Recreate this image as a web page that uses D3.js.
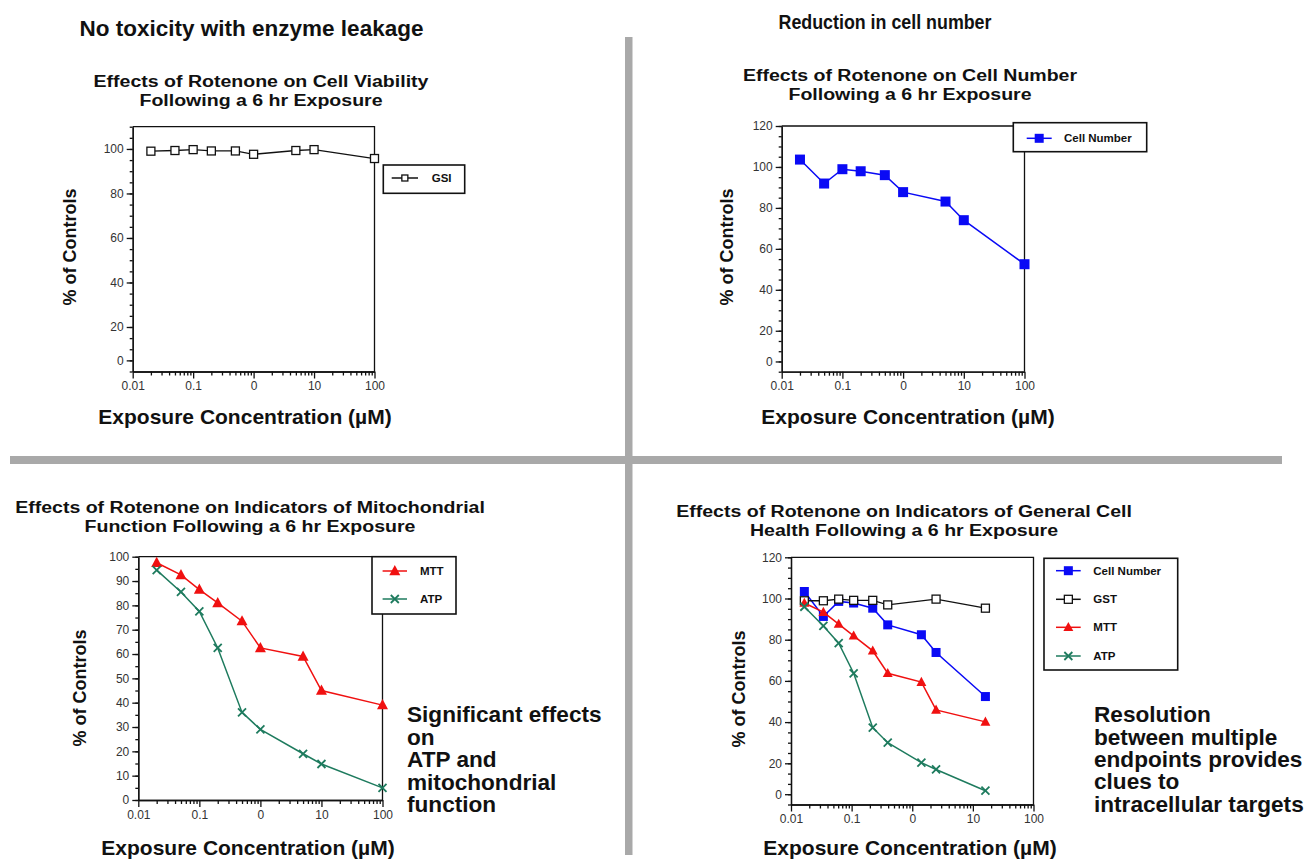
<!DOCTYPE html>
<html><head><meta charset="utf-8">
<script src="https://cdn.jsdelivr.net/npm/d3@7"></script>
<style>body{margin:0;background:#fff} svg{display:block}</style>
</head><body>
<svg id="c" width="1307" height="863"></svg>
<script>
// ---------- DATA ----------
const concentrations = [0.02, 0.05, 0.1, 0.2, 0.5, 1, 5, 10, 100];
const gsiValues = [99, 99.3, 99.7, 99.1, 99.1, 97.6, 99.3, 99.7, 95.7];
const cellNumberValues = [103.6, 91.9, 98.9, 97.9, 96, 87.7, 83.1, 74, 52.5];
const mttValues = [97.5, 92.5, 86.5, 81, 73.5, 62.5, 59, 45, 39];
const atpValues = [94.5, 85.5, 77.5, 62.5, 36, 29, 19, 14.8, 5];

// panel 4 (points plotted at compressed positions in the original)
const concentrations4 = [0.0166, 0.0342, 0.0612, 0.108, 0.223, 0.394, 1.415, 2.47, 16.1];
const gstConcentrations4 = [0.0166, 0.0342, 0.0612, 0.108, 0.223, 0.394, 2.47, 16.1];
const cellNumber4 = [103.4, 91.3, 98.6, 97.8, 95.3, 87.2, 82.4, 73.8, 52.4];
const gst4 = [98.9, 98.9, 99.7, 99.1, 99.1, 96.9, 99.7, 95.3];
const mtt4 = [97.8, 93.4, 87.6, 81.9, 74.6, 63.7, 59.4, 45.9, 40.1];
const atp4 = [96, 86.7, 78.3, 63.7, 37.3, 30, 20.3, 17, 6.7];

const xTickValues = [0.01, 0.1, 1, 10, 100];
const xTickLabels = ["0.01", "0.1", "0", "10", "100"];
const yTickValues110 = [5, 20, 40, 60, 80, 100];
const yTickLabels110 = ["0", "20", "40", "60", "80", "100"];
const yTickValues120 = [5, 20, 40, 60, 80, 100, 120];
const yTickLabels120 = ["0", "20", "40", "60", "80", "100", "120"];
const yTickValues100 = [0, 10, 20, 30, 40, 50, 60, 70, 80, 90, 100];
const yTickLabels100 = ["0", "10", "20", "30", "40", "50", "60", "70", "80", "90", "100"];

// ---------- STYLE ----------
const FONT = "'Liberation Sans', Arial, Helvetica, sans-serif";
const BLUE = "#0a0af5", RED = "#f01010", GREEN = "#1e7b5e", BLACK = "#111";

const svg = d3.select("#c");
svg.append("rect").attr("width", 1307).attr("height", 863).attr("fill", "#fff");

// dividers
svg.append("rect").attr("x", 625).attr("y", 37).attr("width", 7.5).attr("height", 818).attr("fill", "#a9a9a9");
svg.append("rect").attr("x", 10).attr("y", 456).attr("width", 1272).attr("height", 8).attr("fill", "#a9a9a9");

function text(x, y, str, size, opts = {}) {
  return svg.append("text").attr("x", x).attr("y", y).text(str)
    .attr("font-family", FONT).attr("font-size", size)
    .attr("font-weight", opts.weight || "bold")
    .attr("text-anchor", opts.anchor || "start")
    .attr("fill", opts.fill || "#111");
}

// multi-line text block as one <text> with tspans
function block(x, y, lines, size, lineH, anchor, sx) {
  const t = svg.append("text").attr("x", 0).attr("y", 0)
    .attr("transform", `translate(${x},${y}) scale(${sx || 1},1)`)
    .attr("font-family", FONT).attr("font-size", size).attr("font-weight", "bold")
    .attr("text-anchor", anchor || "start").attr("fill", "#111");
  lines.forEach((l, i) => t.append("tspan").attr("x", 0).attr("dy", i === 0 ? 0 : lineH).text(l));
  return t;
}

function marker(g, type, cx, cy, color, s) {
  if (type === "sqOpen") {
    g.append("rect").attr("x", cx - s / 2).attr("y", cy - s / 2).attr("width", s).attr("height", s)
      .attr("fill", "#fff").attr("stroke", color).attr("stroke-width", 1.3);
  } else if (type === "sqFill") {
    g.append("rect").attr("x", cx - s / 2).attr("y", cy - s / 2).attr("width", s).attr("height", s)
      .attr("fill", color).attr("stroke", "none");
  } else if (type === "tri") {
    g.append("path").attr("d", `M${cx},${cy - s * 0.6}L${cx + s * 0.55},${cy + s * 0.42}L${cx - s * 0.55},${cy + s * 0.42}Z`)
      .attr("fill", color);
  } else if (type === "x") {
    const h = s / 2;
    g.append("path").attr("d", `M${cx - h},${cy - h}L${cx + h},${cy + h}M${cx - h},${cy + h}L${cx + h},${cy - h}`)
      .attr("stroke", color).attr("stroke-width", 1.8).attr("fill", "none");
  }
}

function panel(cfg) {
  const g = svg.append("g");
  const x = d3.scaleLog().domain([0.01, 100]).range([cfg.x0, cfg.x1]);
  const y = d3.scaleLinear().domain([0, cfg.yMax]).range([cfg.y0, cfg.y1]);

  // frame (top and right)
  g.append("path").attr("d", `M${cfg.x0},${cfg.y1}H${cfg.x1}V${cfg.y0}`)
    .attr("fill", "none").attr("stroke", BLACK).attr("stroke-width", 1.3);

  // x axis
  const minorX = [];
  [0.01, 0.1, 1, 10].forEach(d => { for (let k = 2; k <= 9; k++) minorX.push(d * k); });
  const gx = g.append("g").attr("transform", `translate(0,${cfg.y0})`);
  gx.call(d3.axisBottom(x).tickValues(minorX).tickFormat("").tickSize(4).tickSizeOuter(0));
  const gx2 = g.append("g").attr("transform", `translate(0,${cfg.y0})`);
  gx2.call(d3.axisBottom(x).tickValues(xTickValues).tickFormat((d, i) => xTickLabels[i]).tickSize(7).tickSizeOuter(0).tickPadding(3));
  [gx, gx2].forEach(a => {
    a.selectAll("path,line").attr("stroke", BLACK).attr("stroke-width", 1.3);
    a.selectAll("text").attr("font-family", FONT).attr("font-size", 12).attr("fill", "#333");
  });

  // y axis
  const gy = g.append("g").attr("transform", `translate(${cfg.x0},0)`);
  gy.call(d3.axisLeft(y).tickValues(d3.range(0, cfg.yMax + 0.01, 5)).tickFormat("").tickSize(3).tickSizeOuter(0));
  const gy2 = g.append("g").attr("transform", `translate(${cfg.x0},0)`);
  gy2.call(d3.axisLeft(y).tickValues(cfg.yTicks).tickFormat((d, i) => cfg.yLabels[i]).tickSize(6).tickSizeOuter(0).tickPadding(3));
  [gy, gy2].forEach(a => {
    a.selectAll("path,line").attr("stroke", BLACK).attr("stroke-width", 1.3);
    a.selectAll("text").attr("font-family", FONT).attr("font-size", 12).attr("fill", "#333");
  });

  // series
  cfg.series.forEach(s => {
    const pts = s.xs.map((c, i) => [c, s.ys[i]]);
    g.append("path").datum(pts)
      .attr("d", d3.line().x(d => x(d[0])).y(d => y(d[1])))
      .attr("fill", "none").attr("stroke", s.color).attr("stroke-width", s.lw || 1.5);
    pts.forEach(d => marker(g, s.marker, x(d[0]), y(d[1]), s.color, s.size));
  });

  // legend
  const L = cfg.legend;
  g.append("rect").attr("x", L.x).attr("y", L.y).attr("width", L.w).attr("height", L.h)
    .attr("fill", "#fff").attr("stroke", BLACK).attr("stroke-width", 1.6);
  cfg.series.forEach((s, i) => {
    const yy = L.rows[i];
    g.append("line").attr("x1", L.lx0).attr("x2", L.lx1).attr("y1", yy).attr("y2", yy)
      .attr("stroke", s.color).attr("stroke-width", 1.5);
    marker(g, s.marker, (L.lx0 + L.lx1) / 2, yy, s.color, s.legendSize || s.size);
    text(L.tx, yy + 4, s.name, 11.5);
  });

  // titles and labels
  block(cfg.titleX, cfg.titleY, cfg.title, 17, 19.5, "middle", 1.15);
  text(cfg.xlabX, cfg.xlabY, "Exposure Concentration (µM)", 21, { anchor: "middle" });
  text(0, 0, "% of Controls", 18, { anchor: "middle" })
    .attr("transform", `translate(${cfg.ylabX},${cfg.ylabY}) rotate(-90)`);
}

// headers
text(251.5, 36, "No toxicity with enzyme leakage", 22.5, { anchor: "middle" });
text(0, 0, "Reduction in cell number", 20.5, { anchor: "middle" })
  .attr("transform", "translate(885,29) scale(0.87,1)");

// Panel 1
panel({
  x0: 132.7, x1: 374.5, y0: 371.5, y1: 126.7, yMax: 110,
  yTicks: yTickValues110, yLabels: yTickLabels110,
  series: [{ name: "GSI", xs: concentrations, ys: gsiValues, color: BLACK, marker: "sqOpen", size: 8, lw: 1.3, legendSize: 6 }],
  legend: { x: 383.3, y: 165, w: 81.4, h: 28.3, rows: [178], lx0: 391.7, lx1: 418, tx: 431.7 },
  title: ["Effects of Rotenone on Cell Viability", "Following a 6 hr Exposure"], titleX: 261, titleY: 86.5,
  xlabX: 245, xlabY: 424, ylabX: 76, ylabY: 247
});

// Panel 2
panel({
  x0: 781.7, x1: 1024.5, y0: 371.7, y1: 126, yMax: 120,
  yTicks: yTickValues120, yLabels: yTickLabels120,
  series: [{ name: "Cell Number", xs: concentrations, ys: cellNumberValues, color: BLUE, marker: "sqFill", size: 10, legendSize: 9 }],
  legend: { x: 1013.3, y: 122.7, w: 133.4, h: 29, rows: [138.3], lx0: 1026.7, lx1: 1051.7, tx: 1064 },
  title: ["Effects of Rotenone on Cell Number", "Following a 6 hr Exposure"], titleX: 910, titleY: 80.5,
  xlabX: 908, xlabY: 424, ylabX: 733, ylabY: 247
});

// Panel 3
panel({
  x0: 138.3, x1: 382.5, y0: 800, y1: 556.7, yMax: 100,
  yTicks: yTickValues100, yLabels: yTickLabels100,
  series: [
    { name: "MTT", xs: concentrations, ys: mttValues, color: RED, marker: "tri", size: 10 },
    { name: "ATP", xs: concentrations, ys: atpValues, color: GREEN, marker: "x", size: 8 }
  ],
  legend: { x: 372, y: 556.7, w: 84, h: 57.3, rows: [571, 599], lx0: 382.6, lx1: 407, tx: 420 },
  title: ["Effects of Rotenone on Indicators of Mitochondrial", "Function Following a 6 hr Exposure"], titleX: 250, titleY: 513,
  xlabX: 248, xlabY: 855, ylabX: 86, ylabY: 688
});

// Panel 4
panel({
  x0: 791, x1: 1033.5, y0: 804.5, y1: 557.3, yMax: 120,
  yTicks: yTickValues120, yLabels: yTickLabels120,
  series: [
    { name: "Cell Number", xs: concentrations4, ys: cellNumber4, color: BLUE, marker: "sqFill", size: 9 },
    { name: "GST", xs: gstConcentrations4, ys: gst4, color: BLACK, marker: "sqOpen", size: 8, lw: 1.3 },
    { name: "MTT", xs: concentrations4, ys: mtt4, color: RED, marker: "tri", size: 9 },
    { name: "ATP", xs: concentrations4, ys: atp4, color: GREEN, marker: "x", size: 8 }
  ],
  legend: { x: 1044, y: 558.3, w: 133.7, h: 111.7, rows: [570.7, 599.3, 627.3, 656], lx0: 1056, lx1: 1080.7, tx: 1093.3 },
  title: ["Effects of Rotenone on Indicators of General Cell", "Health Following a 6 hr Exposure"], titleX: 904, titleY: 516.5,
  xlabX: 910, xlabY: 855, ylabX: 745, ylabY: 689
});

// annotations
block(407, 722, ["Significant effects", "on", "ATP and", "mitochondrial", "function"], 22.6, 22.5);
block(1094, 722.3, ["Resolution", "between multiple", "endpoints provides", "clues to", "intracellular targets"], 22.6, 22.4);
</script>
</body></html>
